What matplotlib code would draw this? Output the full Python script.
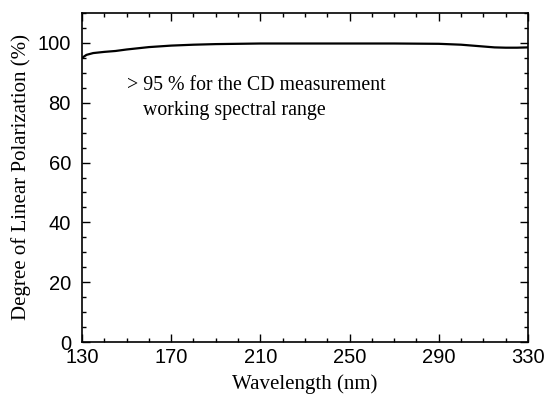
import numpy as np
import matplotlib.pyplot as plt
from matplotlib.ticker import MultipleLocator

# wavelength (nm) and degree of linear polarization (%)
wavelength = [130, 132, 135, 140, 145, 150, 160, 170, 180, 190, 200, 210, 230, 250,
              270, 290, 300, 305, 310, 315, 320, 325, 330]
polarization = [95.0, 96.0, 96.6, 97.0, 97.3, 97.8, 98.6, 99.1, 99.4, 99.6, 99.7, 99.8,
                99.8, 99.8, 99.8, 99.7, 99.4, 99.1, 98.8, 98.5, 98.4, 98.4, 98.5]
xticks = [130, 170, 210, 250, 290, 330]

fig = plt.figure(figsize=(5.45, 3.96), dpi=100)
ax = fig.add_axes([82 / 545, 1 - 342 / 396, 446 / 545, 329 / 396])

ax.plot(wavelength, polarization, color="black", lw=1.6)

ax.set_xlim(130, 330)
ax.set_ylim(0, 110)
ax.set_xticks(xticks)
ax.xaxis.set_minor_locator(MultipleLocator(10))
ax.yaxis.set_major_locator(MultipleLocator(20))
ax.yaxis.set_minor_locator(MultipleLocator(5))
ax.tick_params(which="both", direction="in", top=True, right=True, width=1)
ax.tick_params(which="major", length=6, labelsize=14.5)
ax.tick_params(axis="x", which="major", pad=4.5)
ax.tick_params(axis="y", which="major", pad=8)
ax.tick_params(which="minor", length=3)
for lab in ax.get_xticklabels() + ax.get_yticklabels():
    lab.set_family("Liberation Sans")
for s in ax.spines.values():
    s.set_linewidth(1.2)

ax.set_xlabel("Wavelength (nm)", family="Liberation Serif", fontsize=15, labelpad=5)
ax.set_ylabel("Degree of Linear Polarization (%)", family="Liberation Serif", fontsize=15, labelpad=5)

ax.text(127, 396 - 86, "> 95 % for the CD measurement", transform=None,
        family="Liberation Serif", fontsize=14.3, va="center", ha="left")
ax.text(143, 396 - 111, "working spectral range", transform=None,
        family="Liberation Serif", fontsize=14.3, va="center", ha="left")

plt.savefig("out.png", dpi=100)
